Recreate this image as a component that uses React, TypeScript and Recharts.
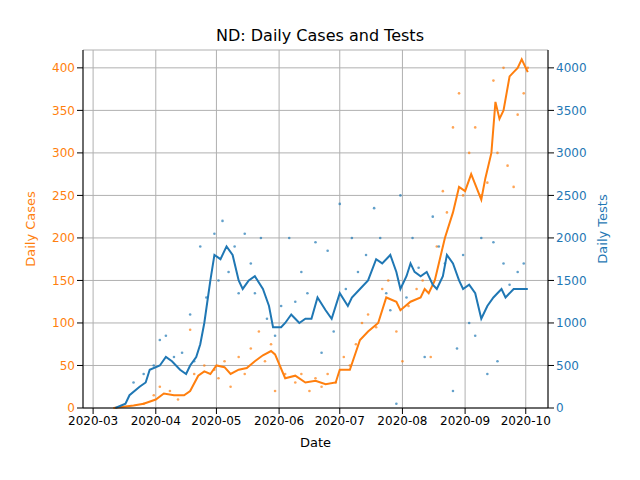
import { ComposedChart, Line, Scatter, XAxis, YAxis, CartesianGrid } from "recharts";

// day index counted from 2020-03-01
const monthTicks = [0, 31, 61, 92, 122, 153, 184, 214];
const monthLabels = ["2020-03", "2020-04", "2020-05", "2020-06", "2020-07", "2020-08", "2020-09", "2020-10"];

const caseAvgDays = [10, 20, 25, 31, 35, 40, 45, 48, 52, 55, 58, 61, 65, 68, 72, 76, 80, 84, 88, 90, 95, 100, 105, 110, 115, 120, 122, 127, 132, 136, 141, 145, 150, 152, 157, 162, 164, 166, 169, 171, 174, 178, 181, 184, 187, 192, 194, 197, 199, 201, 203, 206, 208, 210, 212, 215];
const caseAvgVals = [0, 3, 5, 10, 17, 15, 15, 20, 38, 43, 40, 50, 48, 40, 45, 47, 55, 62, 67, 63, 35, 38, 30, 32, 28, 30, 45, 45, 80, 90, 100, 130, 125, 115, 125, 130, 140, 135, 150, 170, 200, 230, 260, 255, 275, 245, 270, 300, 360, 340, 350, 390, 395, 400, 410, 395];

const testAvgDays = [11, 16, 18, 23, 26, 28, 33, 36, 39, 43, 46, 48, 51, 53, 55, 58, 60, 63, 66, 69, 72, 74, 77, 80, 84, 87, 89, 93, 95, 98, 100, 102, 105, 108, 111, 115, 118, 122, 126, 128, 132, 136, 140, 143, 147, 150, 152, 155, 157, 159, 162, 165, 168, 170, 173, 175, 178, 181, 183, 186, 189, 192, 195, 198, 202, 204, 208, 211, 215];
const testAvgVals = [0, 50, 150, 250, 300, 450, 500, 600, 550, 450, 400, 500, 600, 750, 1000, 1500, 1800, 1750, 1900, 1800, 1500, 1400, 1500, 1550, 1400, 1200, 950, 950, 1000, 1100, 1050, 1000, 1050, 1050, 1300, 1150, 1050, 1350, 1200, 1300, 1400, 1500, 1750, 1700, 1800, 1600, 1400, 1550, 1700, 1600, 1550, 1600, 1450, 1400, 1550, 1800, 1700, 1500, 1400, 1450, 1350, 1050, 1200, 1300, 1400, 1300, 1400, 1400, 1400];

const caseDotDays = [25, 30, 33, 38, 42, 48, 50, 55, 60, 62, 65, 68, 72, 75, 78, 82, 85, 88, 90, 95, 100, 103, 107, 110, 113, 116, 120, 124, 127, 130, 133, 136, 140, 143, 146, 150, 153, 156, 160, 163, 167, 170, 173, 175, 178, 181, 183, 186, 189, 192, 195, 198, 200, 203, 205, 208, 210, 213, 215];
const caseDotVals = [5, 15, 25, 20, 10, 92, 40, 50, 45, 35, 55, 25, 60, 40, 70, 90, 55, 75, 20, 40, 30, 40, 20, 35, 25, 40, 30, 60, 50, 75, 100, 110, 95, 140, 150, 90, 55, 120, 140, 150, 60, 190, 255, 230, 330, 370, 250, 300, 330, 250, 265, 385, 300, 400, 285, 260, 345, 370, 400];

const testDotDays = [20, 25, 30, 33, 36, 40, 44, 48, 50, 53, 56, 60, 62, 64, 67, 70, 72, 75, 78, 80, 83, 86, 90, 93, 97, 100, 103, 106, 110, 113, 116, 119, 122, 125, 128, 131, 135, 139, 142, 145, 147, 150, 152, 155, 158, 161, 164, 168, 171, 174, 178, 180, 183, 186, 189, 192, 195, 198, 200, 203, 206, 210, 213];
const testDotVals = [300, 400, 500, 800, 850, 600, 650, 1100, 550, 1900, 1300, 2050, 1500, 2200, 1600, 1900, 1350, 2050, 1700, 1350, 2000, 1050, 850, 1200, 2000, 1250, 1600, 1350, 1950, 650, 1850, 900, 2400, 1400, 2000, 1600, 1800, 2350, 2000, 1350, 1150, 50, 2500, 1300, 2000, 1650, 600, 2250, 1900, 1700, 200, 700, 1800, 1000, 850, 2000, 400, 1950, 550, 1700, 1450, 1600, 1700];

const ORANGE = "#ff7f0e";
const BLUE = "#1f77b4";

const zip = (d: number[], v: number[]) => d.map((x, i) => ({ d: x, v: v[i] }));
const caseAvg = zip(caseAvgDays, caseAvgVals);
const testAvg = zip(testAvgDays, testAvgVals);
const caseDots = zip(caseDotDays, caseDotVals);
const testDots = zip(testDotDays, testDotVals);

const dot = (color: string) => (p: any) => <circle cx={p.cx} cy={p.cy} r={1.3} fill={color} opacity={0.7} />;

const font = "DejaVu Sans, sans-serif";

export default function App() {
  return (
    <div style={{ position: "absolute", left: 0, top: 0, width: 640, height: 480, background: "#fff", fontFamily: font }}>
      <div style={{ position: "absolute", top: 26, width: "100%", textAlign: "center", fontSize: 16 }}>
        ND: Daily Cases and Tests
      </div>
      <ComposedChart width={640} height={480} margin={{ top: 50, right: 0, bottom: 0, left: 0 }}>
        <CartesianGrid yAxisId="l" stroke="#b0b0b0" />
        <XAxis
          dataKey="d"
          type="number"
          domain={[-5, 225]}
          ticks={monthTicks}
          tickFormatter={(t: number) => monthLabels[monthTicks.indexOf(t)]}
          height={72}
          stroke="#000"
          tick={{ fill: "#000", fontSize: 12, fontFamily: font }}
          label={{ value: "Date", position: "insideTop", offset: 30, fill: "#000", fontSize: 13, fontFamily: font }}
          allowDuplicatedCategory={false}
        />
        <YAxis
          yAxisId="l"
          domain={[0, 421]}
          ticks={[0, 50, 100, 150, 200, 250, 300, 350, 400]}
          width={83}
          stroke="#000"
          tick={{ fill: ORANGE, fontSize: 12, fontFamily: font }}
          label={{ value: "Daily Cases", angle: -90, position: "insideLeft", offset: 30, fill: ORANGE, fontSize: 13, fontFamily: font, style: { textAnchor: "middle" } }}
        />
        <YAxis
          yAxisId="r"
          orientation="right"
          domain={[0, 4210]}
          ticks={[0, 500, 1000, 1500, 2000, 2500, 3000, 3500, 4000]}
          width={92}
          stroke="#000"
          tick={{ fill: BLUE, fontSize: 12, fontFamily: font }}
          label={{ value: "Daily Tests", angle: -90, position: "insideRight", offset: 38, fill: BLUE, fontSize: 13, fontFamily: font, style: { textAnchor: "middle" } }}
        />
        <Scatter yAxisId="l" data={caseDots} dataKey="v" shape={dot(ORANGE)} isAnimationActive={false} />
        <Scatter yAxisId="r" data={testDots} dataKey="v" shape={dot(BLUE)} isAnimationActive={false} />
        <Line yAxisId="l" data={caseAvg} dataKey="v" stroke={ORANGE} strokeWidth={2} dot={false} type="linear" isAnimationActive={false} />
        <Line yAxisId="r" data={testAvg} dataKey="v" stroke={BLUE} strokeWidth={2} dot={false} type="linear" isAnimationActive={false} />
      </ComposedChart>
    </div>
  );
}
